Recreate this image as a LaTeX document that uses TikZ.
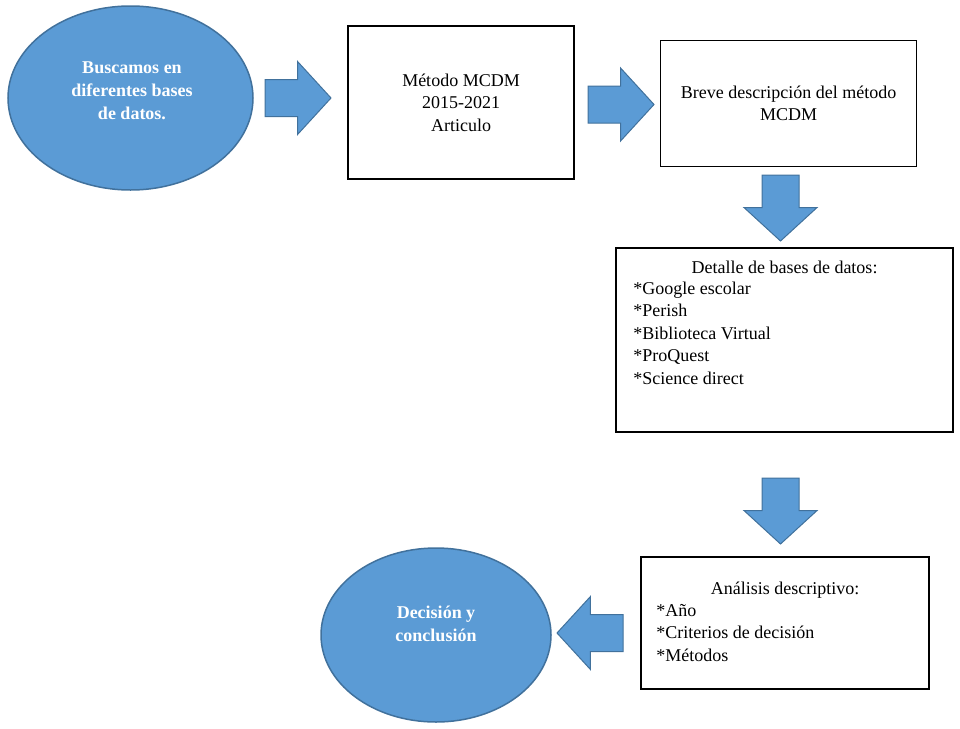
\documentclass[tikz,border=0pt]{standalone}
\usepackage{fontspec}
\setmainfont{Liberation Serif}
\usetikzlibrary{shapes.geometric,shapes.arrows,positioning}
\definecolor{fillblue}{HTML}{5B9BD5}
\definecolor{lineblue}{HTML}{41719C}

\begin{document}
\begin{tikzpicture}[x=1pt,y=-1pt,font=\fontsize{18}{22.5}\selectfont]
    \tikzstyle{bubble} = [ellipse, draw=lineblue, fill=fillblue, line width=1.5pt, inner sep=0pt]
    \tikzstyle{bubbletext} = [text=white, font=\fontsize{18}{22.8}\selectfont\bfseries, align=center, inner sep=0pt]
    \tikzstyle{entity} = [draw, rectangle, line width=1.6pt, inner sep=0pt, align=center]
    \tikzstyle{entitytext} = [inner sep=0pt, align=left]
    \tikzstyle{blockarrow} = [single arrow, draw=lineblue, fill=fillblue, line width=1pt, anchor=tail,
        minimum height=66pt, minimum width=72pt, single arrow head extend=18pt, single arrow tip angle=95]
    \tikzstyle{flat} = [blockarrow, inner xsep=0pt, inner ysep=18pt]
    \tikzstyle{downward} = [blockarrow, inner xsep=18pt, inner ysep=0pt, shape border rotate=270]

    \useasboundingbox (0,0) rectangle (960,728);

    % elipses
    \node[bubble, minimum width=245pt, minimum height=184pt] (search) at (130.5,98) {};
    \node[bubbletext] (searchtext) at (132,90.5) {Buscamos en\\diferentes bases\\de datos.};
    \node[bubble, minimum width=230pt, minimum height=174pt] (decision) at (436,635) {};
    \node[bubbletext] (decisiontext) at (436,624) {Decisión y\\conclusión};

    % cajas
    \node[entity, minimum width=226pt, minimum height=153pt] (method) at (461,102.5) {Método MCDM\\2015-2021\\Articulo};
    \node[entity, minimum width=256pt, minimum height=126pt] (brief) at (788.5,103.5) {Breve descripción del método\\MCDM};
    \node[entity, minimum width=337pt, minimum height=184pt] (bases) at (784.5,340) {};
    \node[entitytext, below=10.25pt of bases.north] (basestitle) {\strut Detalle de bases de datos:};
    \node[entitytext, below right=31.25pt and 18pt of bases.north west] (baseslist)
        {\strut *Google escolar\\*Perish\\*Biblioteca Virtual\\*ProQuest\\*Science direct};
    \node[entity, minimum width=288pt, minimum height=132pt] (analysis) at (785,623) {};
    \node[entitytext, below=22.25pt of analysis.north] (analysistitle) {\strut Análisis descriptivo:};
    \node[entitytext, below right=44.25pt and 16pt of analysis.north west] (analysislist)
        {\strut *Año\\*Criterios de decisión\\*Métodos};

    % flechas
    \node[flat] (arr1) at (264.5,98) {};
    \node[flat] (arr2) at (587.5,104.5) {};
    \node[downward] (arr3) at (780.5,174.5) {};
    \node[downward] (arr4) at (780.5,477.5) {};
    \node[flat, shape border rotate=180] (arr5) at (623.5,633) {};
\end{tikzpicture}
\end{document}
